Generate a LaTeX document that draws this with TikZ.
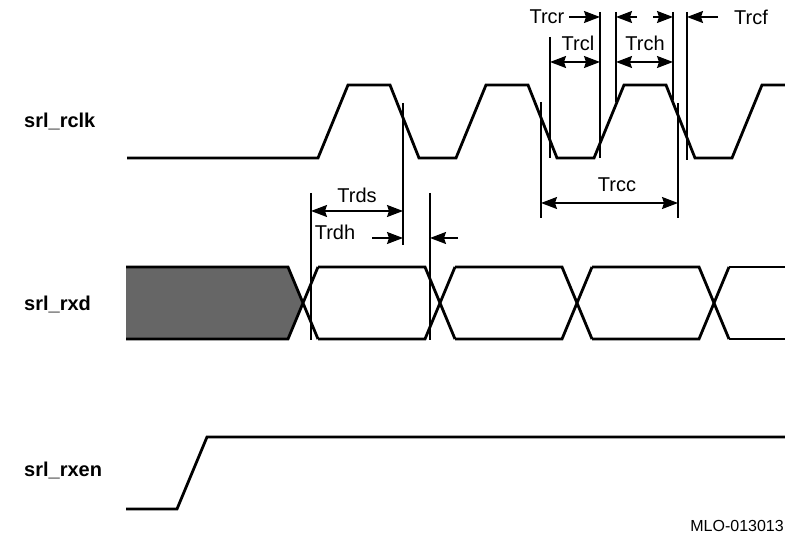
\documentclass[tikz,border=0pt]{standalone}
\usepackage{fontspec}
\setmainfont{Liberation Sans}
\usetikzlibrary{arrows.meta}

\tikzset{
  sig/.style={line width=2.8pt,line join=miter},
  tick/.style={line width=1.5pt},
  tip/.style={line width=1.5pt,-{Stealth[length=16pt,width=12pt,inset=2pt]}},
  tips/.style={line width=1.5pt,{Stealth[length=16pt,width=12pt,inset=2pt]}-{Stealth[length=16pt,width=12pt,inset=2pt]}},
  lbl/.style={inner sep=0pt,font=\fontsize{20}{22}\selectfont},
  sname/.style={inner sep=0pt,anchor=west,font=\fontsize{20}{22}\selectfont\bfseries},
}

\begin{document}
\begin{tikzpicture}[x=1pt,y=-1pt]
\useasboundingbox (0,0) rectangle (785,537);
% signal names
\node[sname] (rclk) at (24,121) {srl\_rclk};
\node[sname] (rxd) at (24,304) {srl\_rxd};
\node[sname] (rxen) at (24,470) {srl\_rxen};
% clock
\draw[sig] (127,158) \foreach \k in {0,1,2} {-- ({318+138*\k},158) -- ({348+138*\k},85) -- ({390+138*\k},85) -- ({419+138*\k},158)} -- (732,158) -- (762,85) -- (785,85);
% data
\fill[black!60] (126,267) -- (288,267) -- (303,303) -- (288,339) -- (126,339) -- cycle;
\draw[sig] (126,267) -- (288,267) -- (318,339) (126,339) -- (288,339) -- (318,267);
\foreach \c in {303,440,577} {
  \draw[sig] ({\c+15},267) -- ({\c+122},267) -- ({\c+152},339);
  \draw[sig] ({\c+15},339) -- ({\c+122},339) -- ({\c+152},267);
}
\draw[sig] (729,267) -- (785,267) (729,339) -- (785,339);
% enable
\draw[sig] (126,509) -- (177,509) -- (207,437) -- (785,437);
% timing marks
\coordinate (ds0) at (311,193); \coordinate (ds1) at (403,103); \coordinate (dh1) at (430,193);
\coordinate (cc0) at (541,102); \coordinate (cl0) at (550,37); \coordinate (cr1) at (600,12);
\coordinate (ch0) at (616,12); \coordinate (ch1) at (673,12); \coordinate (cc1) at (678,103);
\coordinate (cf1) at (687,12);
\draw[tick] (ds0) -- +(0,147) (ds1) -- +(0,142) (dh1) -- +(0,147);
\draw[tick] (cc0) -- +(0,116) (cl0) -- +(0,121) (cr1) -- +(0,146) (ch0) -- +(0,90);
\draw[tick] (ch1) -- +(0,88) (cc1) -- +(0,115) (cf1) -- +(0,148);
% labels and arrows
\node[lbl] (trds) at (357,195) {Trds};
\draw[tips] (311,211) -- (403,211);
\node[lbl] (trdh) at (335,232) {Trdh};
\draw[tip] (372,238) -- (403,238);
\draw[tip] (458,238) -- (430,238);
\node[lbl] (trcc) at (617,185) {Trcc};
\draw[tips] (541,203) -- (678,203);
\node[lbl] (trcr) at (547,17) {Trcr};
\draw[tip] (569,17) -- (cr1 |- trcr);
\draw[tip] (637,17) -- (ch0 |- trcr);
\draw[tip] (653,17) -- (ch1 |- trcr);
\node[lbl] (trcf) at (751,17) {Trcf};
\draw[tip] (718,17) -- (cf1 |- trcf);
\node[lbl] (trcl) at (578,43) {Trcl};
\draw[tips] (550,62) -- (600,62);
\node[lbl] (trch) at (645,43) {Trch};
\draw[tips] (616,62) -- (673,62);
\node[inner sep=0pt,anchor=east,font=\fontsize{16}{18}\selectfont] (fig) at (784,526) {MLO-013013};
\end{tikzpicture}
\end{document}
